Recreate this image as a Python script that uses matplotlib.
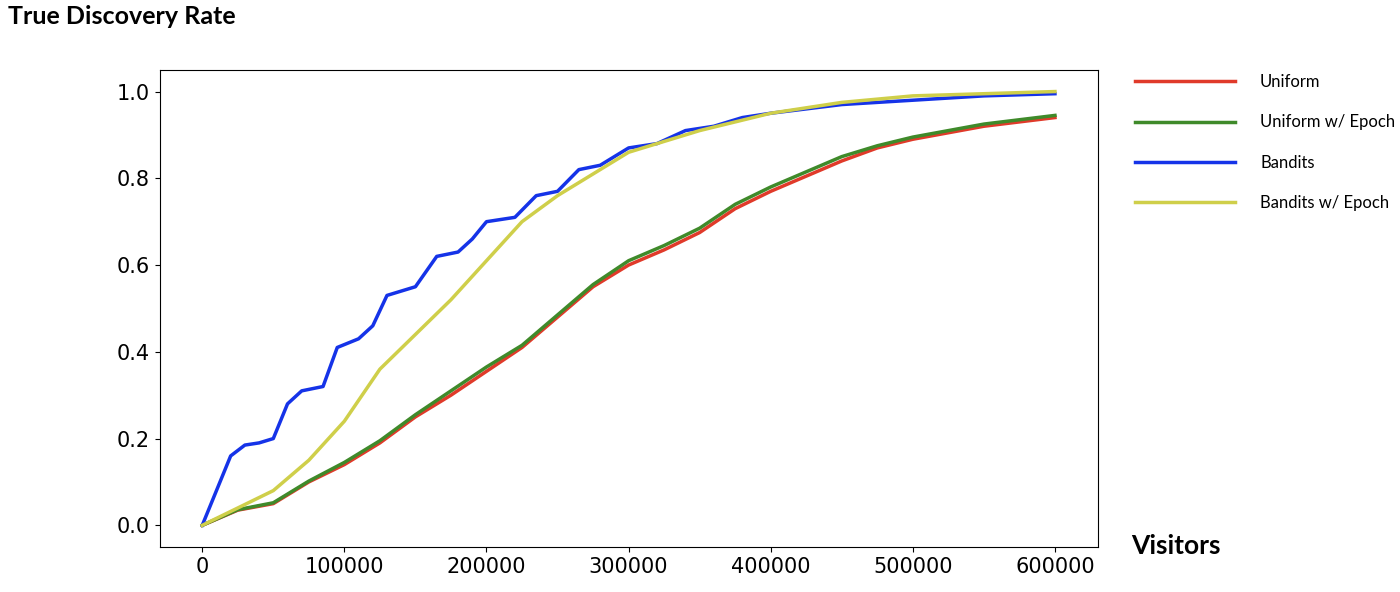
import matplotlib
matplotlib.use("Agg")
import matplotlib.pyplot as plt

bx = [0,10e3,20e3,30e3,40e3,50e3,60e3,70e3,85e3,95e3,110e3,120e3,130e3,150e3,165e3,180e3,190e3,200e3,220e3,235e3,250e3,265e3,280e3,300e3,320e3,340e3,360e3,380e3,400e3,450e3,500e3,550e3,600e3]
by = [0,0.08,0.16,0.185,0.19,0.2,0.28,0.31,0.32,0.41,0.43,0.46,0.53,0.55,0.62,0.63,0.66,0.70,0.71,0.76,0.77,0.82,0.83,0.87,0.88,0.91,0.92,0.94,0.95,0.97,0.98,0.99,0.995]
yx = [0,25e3,50e3,75e3,100e3,125e3,150e3,175e3,200e3,225e3,250e3,275e3,300e3,350e3,400e3,450e3,500e3,600e3]
yy = [0,0.04,0.08,0.15,0.24,0.36,0.44,0.52,0.61,0.70,0.76,0.81,0.86,0.91,0.95,0.975,0.99,1.0]
ux = [0,25e3,50e3,75e3,100e3,125e3,150e3,175e3,200e3,225e3,250e3,275e3,300e3,325e3,350e3,375e3,400e3,425e3,450e3,475e3,500e3,550e3,600e3]
uy = [0,0.035,0.05,0.10,0.14,0.19,0.25,0.30,0.355,0.41,0.48,0.55,0.60,0.635,0.675,0.73,0.77,0.805,0.84,0.87,0.89,0.92,0.94]
gy = [0,0.036,0.052,0.102,0.145,0.195,0.255,0.31,0.365,0.415,0.485,0.555,0.61,0.645,0.685,0.74,0.78,0.815,0.85,0.875,0.895,0.925,0.945]

fig = plt.figure(figsize=(14, 5.92), dpi=100)
ax = fig.add_axes([0.114, 0.076, 0.67, 0.806])
ax.plot(ux, uy, color="#e03a2a", lw=2.5, label="Uniform")
ax.plot(ux, gy, color="#3f8a2a", lw=2.5, label="Uniform w/ Epoch")
ax.plot(bx, by, color="#1533e8", lw=2.5, label="Bandits")
ax.plot(yx, yy, color="#cfcf4a", lw=2.5, label="Bandits w/ Epoch")
ax.set_xlim(-30000, 630000)
ax.set_ylim(-0.05, 1.05)
ax.set_xticks([0,100000,200000,300000,400000,500000,600000])
ax.set_yticks([0,0.2,0.4,0.6,0.8,1.0])
ax.tick_params(labelsize=15)
leg = fig.legend(loc="upper left", bbox_to_anchor=(0.80, 0.9), frameon=False,
                 fontsize=12, handlelength=6, labelspacing=1.45, handletextpad=1.5)
for t in leg.get_texts():
    t.set_family("Lato")
fig.text(0.006, 0.992, "True Discovery Rate", fontsize=18, fontweight="bold", family="Lato", va="top")
fig.text(0.808, 0.078, "Visitors", fontsize=19, fontweight="bold", family="Lato", va="center")
fig.savefig("out.png")
